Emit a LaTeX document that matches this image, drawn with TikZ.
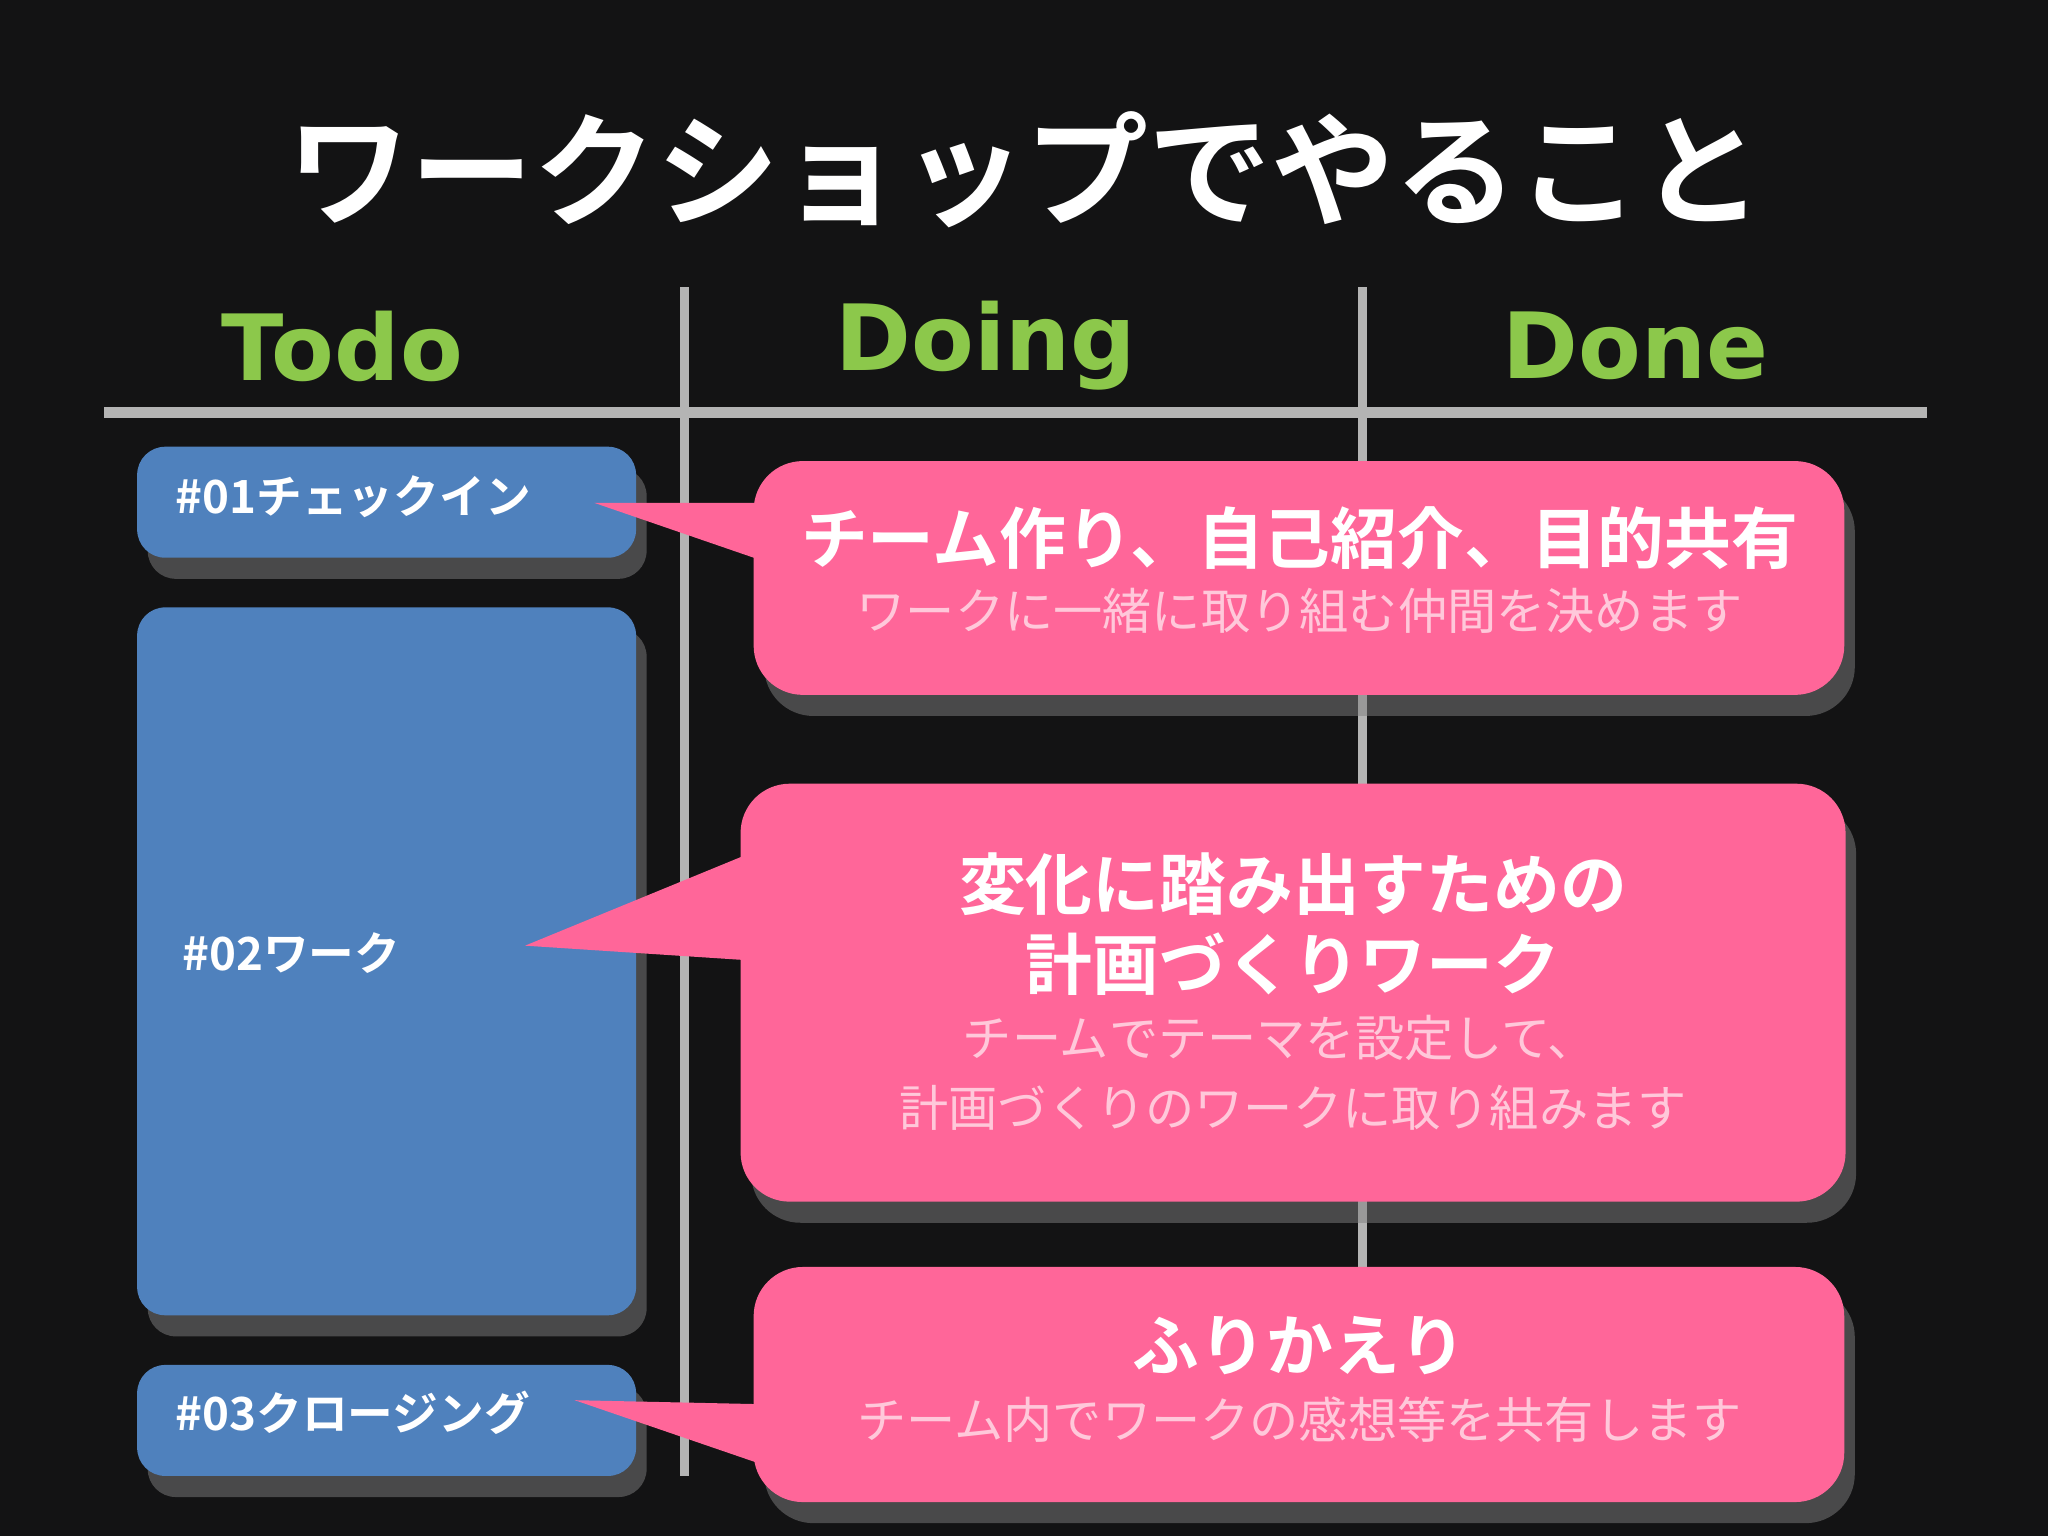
\documentclass[tikz,border=0pt]{standalone}
\usepackage{fontspec}
\newfontfamily\jpb{Noto Sans CJK JP Bold}
\newfontfamily\jpr{Noto Sans CJK JP}
\newfontfamily\lat{DejaVu Sans}
\usetikzlibrary{shadows}
\definecolor{bg}{HTML}{131314}
\definecolor{grn}{HTML}{8CC84B}
\definecolor{gl}{HTML}{B4B4B4}
\definecolor{blu}{HTML}{4F81BD}
\definecolor{pnk}{HTML}{FF6699}
\definecolor{sub}{HTML}{FFC8DA}
\tikzset{
 col/.style={text=grn,font=\lat\bfseries\fontsize{26}{30}\selectfont},
 bluebox/.style={fill=blu,rounded corners=8pt,drop shadow={shadow xshift=3pt,shadow yshift=-6pt,opacity=0.5}},
 pinkbox/.style={fill=pnk,rounded corners=14pt,drop shadow={shadow xshift=3pt,shadow yshift=-6pt,opacity=0.5}},
 btxt/.style={text=white,font=\jpb\fontsize{13}{15}\selectfont,anchor=west},
 ptitle/.style={text=white,font=\jpb\fontsize{19}{23}\selectfont},
 psub/.style={text=sub,font=\jpr\fontsize{14}{17}\selectfont},
}
\begin{document}
\begin{tikzpicture}[x=0.1306mm,y=-0.1306mm]
\fill[bg] (0,0) rectangle (1568,1176);
\useasboundingbox (0,0) rectangle (1568,1176);
\node[text=white,font=\jpb\fontsize{35}{40}\selectfont] (title) at (785,130) {ワークショップでやること};
\node[col] (todo) at (262,265) {Todo};
\node[col] (doing) at (755,265) {Doing};
\node[col] (done) at (1252,265) {Done};
\draw[gl,line width=1.05mm] (80,316) -- (1475,316);
\draw[gl,line width=0.9mm] (524,220) -- (524,1130);
\draw[gl,line width=0.9mm] (1043,220) -- (1043,1130);
% blue boxes
\path[bluebox] (105,342) rectangle (487,427);
\node[btxt] (b1) at (125,380) {\#01チェックイン};
\path[bluebox] (105,465) rectangle (487,1007);
\node[btxt] (b2) at (130,730) {\#02ワーク};
\path[bluebox] (105,1045) rectangle (487,1130);
\node[btxt] (b3) at (125,1082) {\#03クロージング};
% pink callouts
\path[pinkbox] (577,353) rectangle (1412,532);
\fill[pnk] (455,385) -- (580,385) -- (580,428) -- cycle;
\node[ptitle] (p1t) at (995,412) {チーム作り、自己紹介、目的共有};
\node[psub] (p1s) at (995,468) {ワークに一緒に取り組む仲間を決めます};
\path[pinkbox] (567,600) rectangle (1413,920);
\fill[pnk] (402,724) -- (570,655) -- (570,735) -- cycle;
\node[ptitle] (p2a) at (990,677) {変化に踏み出すための};
\node[ptitle] (p2b) at (990,738) {計画づくりワーク};
\node[psub] (p2c) at (980,795) {チームでテーマを設定して、};
\node[psub] (p2d) at (990,848) {計画づくりのワークに取り組みます};
\path[pinkbox] (577,970) rectangle (1412,1150);
\fill[pnk] (440,1072) -- (580,1075) -- (580,1120) -- cycle;
\node[ptitle] (p3t) at (995,1030) {ふりかえり};
\node[psub] (p3s) at (995,1087) {チーム内でワークの感想等を共有します};
\end{tikzpicture}
\end{document}
